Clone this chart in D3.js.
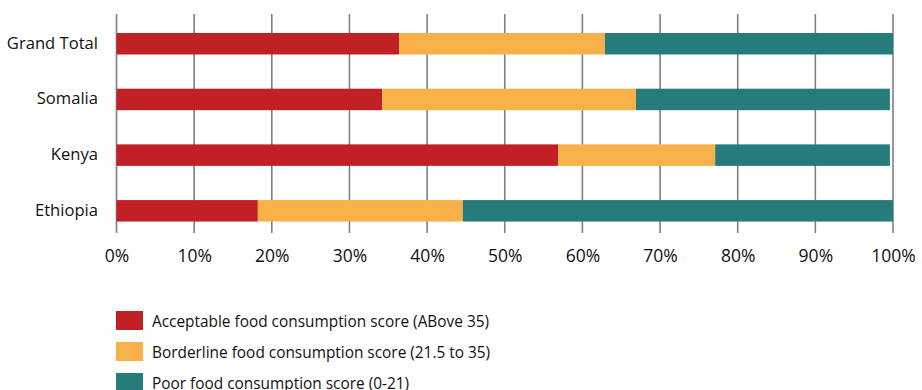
<!DOCTYPE html>
<html><head><meta charset="utf-8">
<script src="https://cdn.jsdelivr.net/npm/d3@7"></script>
<style>body{margin:0;background:#fff}svg{display:block}text{font-family:"Open Sans",sans-serif;fill:#111}</style>
</head><body><svg id="c" width="922" height="390"></svg>
<script>
const categories = ["Grand Total", "Somalia", "Kenya", "Ethiopia"];
const acceptable = [36.4, 34.2, 56.9, 18.2];
const borderline = [26.5, 32.7, 20.2, 26.4];
const poor = [37.1, 32.7, 22.5, 55.4];
const seriesNames = ["Acceptable food consumption score (ABove 35)", "Borderline food consumption score (21.5 to 35)", "Poor food consumption score (0-21)"];
const colors = ["#C12024", "#F8B048", "#267C7A"];
const tickValues = [0,10,20,30,40,50,60,70,80,90,100];

const svg = d3.select("#c");
const x = d3.scaleLinear().domain([0,100]).range([116.5, 893]);
const y = d3.scaleBand().domain(categories).range([5.15, 249.4]).paddingInner(0.614).paddingOuter(0.5);

// grid
svg.append("g").selectAll("line").data(tickValues).join("line")
  .attr("x1", d=>x(d)).attr("x2", d=>x(d)).attr("y1", 14).attr("y2", 233)
  .attr("stroke", "#808080").attr("stroke-width", 1.6);

const rows = categories.map((c,i)=>({c, vals:[acceptable[i], borderline[i], poor[i]]}));
const g = svg.append("g");
rows.forEach(r=>{
  let acc = 0;
  r.vals.forEach((v,j)=>{
    g.append("rect").attr("x", x(acc)).attr("width", x(acc+v)-x(acc))
      .attr("y", y(r.c)).attr("height", y.bandwidth()).attr("fill", colors[j]);
    acc += v;
  });
});

// x axis labels
const xa = svg.append("g").attr("transform","translate(0,244)")
  .call(d3.axisBottom(x).tickValues(tickValues).tickFormat(d=>d+"%").tickSize(0).tickPadding(6));
xa.select(".domain").remove();
xa.selectAll("text").style("font-size","17.5px").style("font-family","'Open Sans',sans-serif").attr("fill","#111");

// y axis labels
const ya = svg.append("g").attr("transform","translate(98,0)")
  .call(d3.axisLeft(y).tickSize(0).tickPadding(0));
ya.select(".domain").remove();
ya.selectAll("text").style("font-size","16.6px").style("font-family","'Open Sans',sans-serif").attr("fill","#111").attr("dy","0.3em");

// legend
const lg = svg.append("g");
seriesNames.forEach((n,i)=>{
  lg.append("rect").attr("x",116).attr("y",311+i*31).attr("width",27).attr("height",19).attr("fill",colors[i]);
  lg.append("text").attr("x",152).attr("y",326.5+i*31).style("font-size","15.4px").text(n);
});
</script></body></html>
